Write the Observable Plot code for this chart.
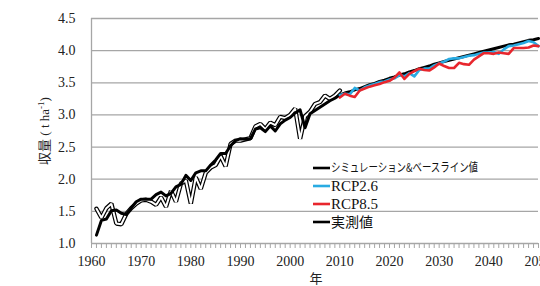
<!DOCTYPE html>
<html><head><meta charset="utf-8">
<script src="https://cdn.jsdelivr.net/npm/d3@7"></script>
<script src="https://cdn.jsdelivr.net/npm/@observablehq/plot@0.6"></script>
<style>
html,body{margin:0;padding:0;background:#fff;overflow:hidden;}
#wrap{position:relative;width:540px;height:286px;overflow:hidden;}
#wrap svg{max-width:none !important;height:286px !important;}
#wrap svg text, #wrap svg tspan{font-family:"Liberation Serif","Times New Roman","DejaVu Serif",serif !important;}
#wrap svg text.cjk, #wrap svg tspan.cjk{font-family:"Noto Sans CJK JP","Noto Sans",sans-serif !important;}
</style></head>
<body><div id="wrap"></div>
<script>
const simYears = d3.range(1961, 2051);
const simValues = [
1.13,1.36,1.38,1.51,1.52,1.47,1.45,1.55,1.65,1.69,
1.69,1.69,1.76,1.80,1.74,1.78,1.88,1.92,2.06,1.98,
2.10,2.13,2.13,2.22,2.30,2.40,2.40,2.52,2.60,2.63,
2.62,2.63,2.78,2.80,2.74,2.83,2.75,2.86,2.92,2.96,
3.03,3.08,2.80,3.02,3.07,3.12,3.17,3.22,3.26,3.31,
3.34,3.36,3.39,3.41,3.44,3.47,3.49,3.52,3.54,3.57,
3.59,3.62,3.64,3.67,3.69,3.72,3.74,3.76,3.79,3.81,
3.83,3.85,3.87,3.89,3.91,3.93,3.95,3.97,3.99,4.01,
4.03,4.05,4.07,4.09,4.10,4.12,4.14,4.16,4.17,4.19];
const obsYears = d3.range(1961, 2011);
const obsValues = [
1.54,1.40,1.55,1.62,1.31,1.30,1.46,1.55,1.62,1.67,
1.68,1.65,1.60,1.72,1.57,1.82,1.65,1.93,1.98,1.62,
2.03,1.85,2.10,2.18,2.22,2.36,2.20,2.55,2.60,2.60,
2.62,2.64,2.82,2.86,2.78,2.88,2.84,2.97,2.95,3.00,
3.10,2.63,2.98,3.05,3.17,3.20,3.30,3.25,3.30,3.38];
const rcpYears = d3.range(2010, 2051);
const rcp26Values = [3.31,
3.33,3.32,3.42,3.38,3.43,3.46,3.48,3.51,3.52,3.55,
3.57,3.62,3.60,3.65,3.60,3.70,3.72,3.72,3.77,3.80,
3.83,3.87,3.88,3.88,3.90,3.92,3.93,3.95,3.97,3.97,
3.98,3.95,4.02,4.07,4.08,4.10,4.12,4.15,4.13,4.07];
const rcp85Values = [3.27,
3.33,3.30,3.28,3.38,3.41,3.44,3.46,3.48,3.51,3.53,
3.58,3.66,3.56,3.64,3.68,3.72,3.70,3.69,3.74,3.80,
3.76,3.73,3.73,3.81,3.79,3.78,3.86,3.91,3.96,3.96,
3.95,3.97,3.96,3.95,4.04,4.04,4.04,4.05,4.08,4.07];
const yTicks = [1.0,1.5,2.0,2.5,3.0,3.5,4.0,4.5];
const xTicks = [1960,1970,1980,1990,2000,2010,2020,2030,2040,2050];
const xMinorTicks = d3.range(1960, 2051);
const legendLabels = ["シミュレーション&ベースライン値","RCP2.6","RCP8.5","実測値"];
const legendColors = ["#000000","#29abe2","#e8262d","#000000"];

const sim = simYears.map((y,i)=>({year:y, v:simValues[i]}));
const obs = obsYears.map((y,i)=>({year:y, v:obsValues[i]}));
const r26 = rcpYears.map((y,i)=>({year:y, v:rcp26Values[i]}));
const r85 = rcpYears.map((y,i)=>({year:y, v:rcp85Values[i]}));

const chart = Plot.plot({
  width: 562, height: 286,
  marginLeft: 91, marginRight: 24, marginTop: 18, marginBottom: 43,
  style: {fontSize: "14px", background: "#fff", overflow: "visible", maxWidth: "none"},
  x: {domain: [1960, 2050]},
  y: {domain: [1.0, 4.5]},
  marks: [
    Plot.gridY(yTicks, {stroke: "#a6a6a6", strokeOpacity: 1, strokeWidth: 1.3}),
    Plot.ruleX([1960], {stroke: "#a6a6a6", strokeWidth: 1.3}),
    Plot.axisY(yTicks, {tickSize: 0, tickPadding: 16, tickFormat: d3.format(".1f"), label: null, fontSize: 14, fill: "#222"}),
    Plot.axisX(xMinorTicks, {tickSize: 5, tickFormat: () => "", label: null, stroke: "#a6a6a6"}),
    Plot.axisX(xTicks, {tickSize: 0, tickPadding: 13, tickFormat: d => String(d), label: null, fontSize: 14, fill: "#222"}),
    Plot.line(obs, {x: "year", y: "v", stroke: "#000", strokeWidth: 4.4, strokeLinejoin: "miter"}),
    Plot.line(obs, {x: "year", y: "v", stroke: "#fff", strokeWidth: 2, strokeLinejoin: "miter"}),
    Plot.line(sim, {x: "year", y: "v", stroke: "#000", strokeWidth: 3}),
    Plot.line(r26, {x: "year", y: "v", stroke: legendColors[1], strokeWidth: 2.6}),
    Plot.line(r85, {x: "year", y: "v", stroke: legendColors[2], strokeWidth: 2.6})
  ]
});
document.getElementById("wrap").appendChild(chart);

const svg = d3.select(chart);
// y axis title
const yt = svg.append("text")
  .attr("transform", "translate(49,131) rotate(-90)")
  .attr("text-anchor", "middle")
  .attr("font-size", 13).attr("fill", "#222");
yt.append("tspan").attr("class", "cjk").text("収量");
yt.append("tspan").text(" ( t ha");
yt.append("tspan").attr("font-size", 9).attr("dy", -5).text("-1");
yt.append("tspan").attr("dy", 5).text(")");
// x axis title
svg.append("text").attr("class", "cjk").attr("x", 316).attr("y", 283).attr("text-anchor", "middle")
  .attr("font-size", 13).attr("fill", "#222").text("年");
// legend
const lg = svg.append("g").attr("text-anchor", "start");
const ys = [168, 186, 204, 222];
legendLabels.forEach((lab, i) => {
  lg.append("line").attr("x1", 313).attr("x2", 330).attr("y1", ys[i]).attr("y2", ys[i])
    .attr("stroke", legendColors[i]).attr("stroke-width", 2.6);
  const t = lg.append("text").attr("x", 331).attr("y", ys[i]).attr("dy", "0.36em")
    .attr("text-anchor", "start").attr("fill", "#111");
  if (i === 0) {
    t.attr("class", "cjk").attr("font-size", 12)
     .attr("textLength", 147).attr("lengthAdjust", "spacingAndGlyphs");
  } else if (i === 3) {
    t.attr("class", "cjk").attr("font-size", 14);
  } else {
    t.attr("font-size", 15);
  }
  t.text(lab);
});
</script></body></html>
